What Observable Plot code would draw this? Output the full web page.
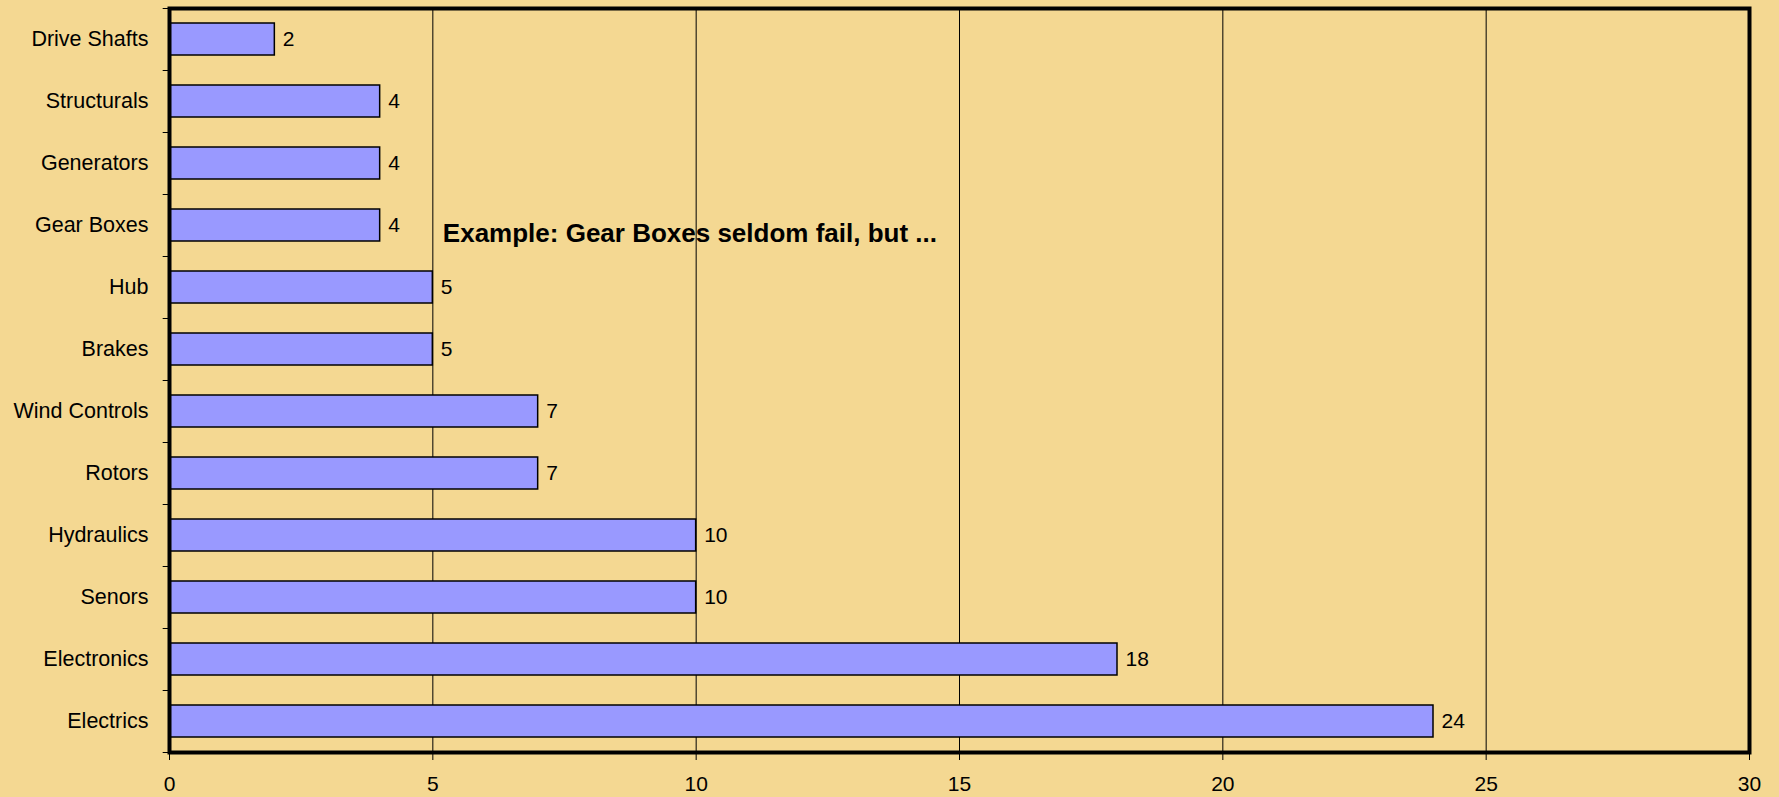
<!DOCTYPE html>
<html>
<head>
<meta charset="utf-8">
<script src="https://cdn.jsdelivr.net/npm/d3@7"></script>
<script src="https://cdn.jsdelivr.net/npm/@observablehq/plot@0.6"></script>
<style>
  html, body { margin: 0; padding: 0; background: #F4D892; }
  svg { display: block; }
</style>
</head>
<body>
<div id="chart"></div>
<script>
const categories = ["Drive Shafts", "Structurals", "Generators", "Gear Boxes", "Hub", "Brakes",
  "Wind Controls", "Rotors", "Hydraulics", "Senors", "Electronics", "Electrics"];
const values = [2, 4, 4, 4, 5, 5, 7, 7, 10, 10, 18, 24];
const xTicks = [0, 5, 10, 15, 20, 25, 30];
const gridValues = [5, 10, 15, 20, 25];
const annotationText = "Example: Gear Boxes seldom fail, but ...";

const data = categories.map((c, i) => ({category: c, value: values[i]}));

const chart = Plot.plot({
  width: 1779,
  height: 797,
  marginLeft: 169,
  marginRight: 30,
  marginTop: 8,
  marginBottom: 45,
  style: {background: "#F4D892", fontFamily: "'Liberation Sans', Arial, sans-serif", color: "black"},
  x: {domain: [0, 30]},
  y: {domain: categories, paddingInner: 0.48, paddingOuter: 0.24},
  marks: [
    Plot.ruleX(gridValues, {stroke: "black", strokeWidth: 1}),
    Plot.barX(data, {x: "value", y: "category", fill: "#9999FF", stroke: "black", strokeWidth: 1.5}),
    Plot.text(data, {x: "value", y: "category", text: d => String(d.value), dx: 8, textAnchor: "start", fontSize: 21, fill: "black"}),
    Plot.ruleY(categories, {y: d => d, dy: -31, x1: -0.12, x2: 0, stroke: "black", strokeWidth: 1, clip: false}),
    Plot.ruleY([categories[categories.length - 1]], {y: d => d, dy: 31, x1: -0.12, x2: 0, stroke: "black", strokeWidth: 1, clip: false}),
    Plot.text([annotationText], {x: 5, y: () => "Gear Boxes", text: d => d, dx: 10, dy: 8, textAnchor: "start", fontSize: 26, fontWeight: "bold", fill: "black"}),
    Plot.axisX({ticks: xTicks, tickSize: 8, tickPadding: 16, fontSize: 21, label: null, stroke: "black"}),
    Plot.axisY({tickSize: 0, tickPadding: 21, fontSize: 21.5, label: null}),
    Plot.frame({stroke: "black", strokeWidth: 4})
  ]
});
document.getElementById("chart").appendChild(chart);
</script>
</body>
</html>
